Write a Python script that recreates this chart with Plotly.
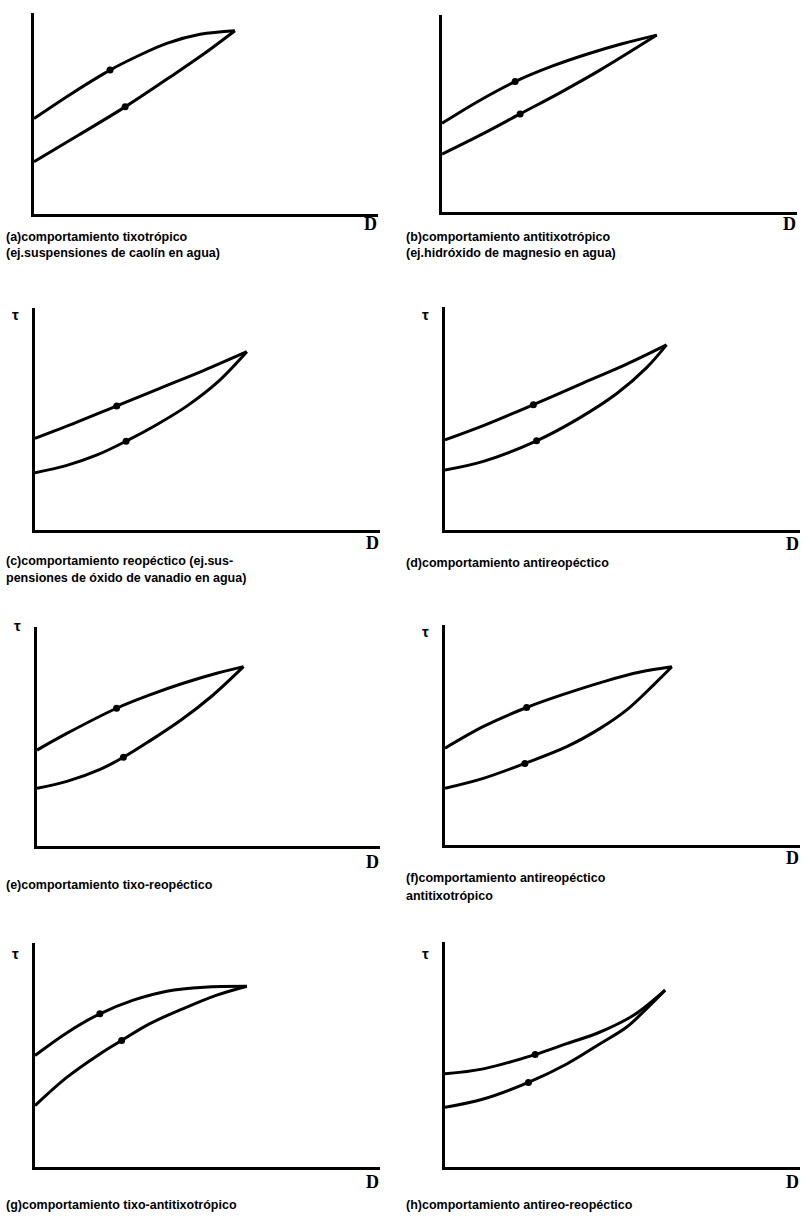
import plotly.graph_objects as go

W, H = 802, 1221

# Flow curves tau(D) for eight time-dependent behaviours.
# D = shear rate, tau = shear stress, both in arbitrary units on a 0-10 scale.

# (a) tixotropic
a_upper_D = [0.0, 1.10, 2.21, 3.08, 3.86, 4.83, 5.84]
a_upper_tau = [4.75, 6.00, 7.16, 7.91, 8.49, 8.94, 9.12]
a_lower_D = [0.0, 1.30, 2.65, 3.90, 4.90, 5.84]
a_lower_tau = [2.60, 3.93, 5.33, 6.75, 7.92, 9.12]
a_dot_D = [2.21, 2.65]
a_dot_tau = [7.16, 5.33]

# (b) antitixotropic
b_upper_D = [0.0, 1.00, 2.06, 3.10, 4.10, 5.10, 6.05]
b_upper_tau = [4.50, 5.60, 6.62, 7.40, 8.02, 8.55, 8.98]
b_lower_D = [0.0, 1.16, 2.20, 3.32, 4.45, 6.05]
b_lower_tau = [2.94, 3.98, 4.98, 6.05, 7.20, 8.98]
b_dot_D = [2.06, 2.20]
b_dot_tau = [6.62, 4.98]

# (c) reopectic
c_upper_D = [0.0, 1.20, 2.37, 3.60, 4.90, 6.14]
c_upper_tau = [4.13, 4.85, 5.59, 6.37, 7.19, 8.03]
c_lower_D = [0.0, 0.90, 1.80, 2.64, 3.50, 4.40, 5.30, 6.14]
c_lower_tau = [2.58, 2.90, 3.38, 4.00, 4.72, 5.58, 6.67, 8.03]
c_dot_D = [2.37, 2.64]
c_dot_tau = [5.59, 4.00]

# (d) antireopectic
d_upper_D = [0.0, 1.08, 2.49, 3.90, 5.12, 6.24]
d_upper_tau = [4.04, 4.68, 5.62, 6.60, 7.44, 8.30]
d_lower_D = [0.0, 1.08, 2.58, 3.71, 4.84, 5.68, 6.24]
d_lower_tau = [2.69, 3.08, 4.00, 4.95, 6.12, 7.28, 8.30]
d_dot_D = [2.49, 2.58]
d_dot_tau = [5.62, 4.00]

# (e) tixo-reopectic
e_upper_D = [0.0, 0.87, 2.32, 3.29, 4.26, 5.24, 6.02]
e_upper_tau = [4.38, 5.14, 6.29, 6.90, 7.43, 7.89, 8.19]
e_lower_D = [0.0, 0.87, 1.84, 2.52, 3.29, 4.20, 5.10, 6.02]
e_lower_tau = [2.63, 2.95, 3.50, 4.05, 4.80, 5.75, 6.85, 8.19]
e_dot_D = [2.32, 2.52]
e_dot_tau = [6.29, 4.05]

# (f) antireopectic-antitixotropic
f_upper_D = [0.0, 1.10, 2.30, 3.40, 4.50, 5.50, 6.39]
f_upper_tau = [4.40, 5.40, 6.25, 6.88, 7.44, 7.86, 8.10]
f_lower_D = [0.0, 1.08, 2.25, 3.43, 4.37, 5.12, 5.87, 6.39]
f_lower_tau = [2.58, 3.03, 3.71, 4.47, 5.30, 6.14, 7.27, 8.10]
f_dot_D = [2.30, 2.25]
f_dot_tau = [6.25, 3.71]

# (g) tixo-antitixotropic
g_upper_D = [0.0, 0.95, 1.88, 2.85, 3.82, 4.90, 6.14]
g_upper_tau = [4.98, 6.02, 6.84, 7.45, 7.85, 8.03, 8.07]
g_lower_D = [0.0, 0.92, 1.88, 2.51, 3.33, 4.30, 5.27, 6.14]
g_lower_tau = [2.74, 4.00, 5.05, 5.65, 6.40, 7.07, 7.67, 8.07]
g_dot_D = [1.88, 2.51]
g_dot_tau = [6.84, 5.65]

# (h) antireo-reopectic
h_upper_D = [0.0, 1.08, 2.54, 3.43, 4.37, 5.31, 6.20]
h_upper_tau = [4.14, 4.36, 5.00, 5.48, 6.00, 6.74, 7.86]
h_lower_D = [0.0, 1.08, 2.35, 3.43, 4.37, 5.12, 5.68, 6.20]
h_lower_tau = [2.65, 3.02, 3.76, 4.58, 5.48, 6.22, 7.04, 7.86]
h_dot_D = [2.54, 2.35]
h_dot_tau = [5.00, 3.76]

captions = [
    ["(a)comportamiento tixotrópico", "(ej.suspensiones de caolín en agua)"],
    ["(b)comportamiento antitixotrópico", "(ej.hidróxido de magnesio en agua)"],
    ["(c)comportamiento reopéctico (ej.sus-", "pensiones de óxido de vanadio en agua)"],
    ["(d)comportamiento antireopéctico"],
    ["(e)comportamiento tixo-reopéctico"],
    ["(f)comportamiento antireopéctico", "antitixotrópico"],
    ["(g)comportamiento tixo-antitixotrópico"],
    ["(h)comportamiento antireo-reopéctico"],
]
show_tau = [False, False, True, True, True, True, True, True]

panels = [
    (a_upper_D, a_upper_tau, a_lower_D, a_lower_tau, a_dot_D, a_dot_tau),
    (b_upper_D, b_upper_tau, b_lower_D, b_lower_tau, b_dot_D, b_dot_tau),
    (c_upper_D, c_upper_tau, c_lower_D, c_lower_tau, c_dot_D, c_dot_tau),
    (d_upper_D, d_upper_tau, d_lower_D, d_lower_tau, d_dot_D, d_dot_tau),
    (e_upper_D, e_upper_tau, e_lower_D, e_lower_tau, e_dot_D, e_dot_tau),
    (f_upper_D, f_upper_tau, f_lower_D, f_lower_tau, f_dot_D, f_dot_tau),
    (g_upper_D, g_upper_tau, g_lower_D, g_lower_tau, g_dot_D, g_dot_tau),
    (h_upper_D, h_upper_tau, h_lower_D, h_lower_tau, h_dot_D, h_dot_tau),
]

# Frame of each panel in page pixels: axis corner x, x-axis end, y-axis top, x-axis level
frames = [
    (34, 378, 13, 214),
    (442, 797, 15, 212),
    (35, 380, 308, 530),
    (445, 800, 307, 530),
    (37, 380, 627, 846),
    (445, 800, 625, 845),
    (35, 380, 943, 1167),
    (445, 800, 942, 1167),
]
caption_y = [(237, 253), (237, 253), (561, 578), (563,), (885,), (878, 896), (1205,), (1205,)]
d_label_drop = [10, 12, 13, 14, 16, 13, 15, 15]
tau_y = [None, None, 315, 315, 625, 632, 953, 953]

FONT = "Liberation Sans, Arial, sans-serif"
INK = "#000000"


def px(x):
    return x / W


def py(y):
    return 1 - y / H


fig = go.Figure()
annotations = []

for i, (panel, frame) in enumerate(zip(panels, frames)):
    uD, ut, lD, lt, dD, dt = panel
    x0, x1, ytop, ybot = frame
    n = i + 1
    xa = "x" if n == 1 else f"x{n}"
    ya = "y" if n == 1 else f"y{n}"
    for xs, ys in ((uD, ut), (lD, lt)):
        fig.add_trace(go.Scatter(
            x=xs, y=ys, mode="lines", xaxis=xa, yaxis=ya,
            line=dict(color=INK, width=3, shape="spline", smoothing=1.0),
            hoverinfo="skip", showlegend=False,
        ))
    fig.add_trace(go.Scatter(
        x=dD, y=dt, mode="markers", xaxis=xa, yaxis=ya,
        marker=dict(color=INK, size=7, symbol="circle"),
        hoverinfo="skip", showlegend=False,
    ))

    axis_common = dict(
        showline=True, linewidth=3, linecolor=INK, showgrid=False,
        zeroline=False, showticklabels=False, ticks="", range=[0, 10],
        fixedrange=True,
    )
    fig.update_layout({
        ("xaxis" if n == 1 else f"xaxis{n}"): dict(
            axis_common, domain=[px(x0), px(x1)], anchor=ya),
        ("yaxis" if n == 1 else f"yaxis{n}"): dict(
            axis_common, domain=[py(ybot), py(ytop)], anchor=xa),
    })

    # axis letters
    annotations.append(dict(
        x=px(x1 - 8), y=py(ybot + d_label_drop[i]), xref="paper", yref="paper",
        text="<b>D</b>", showarrow=False, xanchor="center", yanchor="middle",
        font=dict(family="Liberation Serif, serif", size=18, color=INK),
    ))
    if show_tau[i]:
        annotations.append(dict(
            x=px(x0 - 20), y=py(tau_y[i]), xref="paper", yref="paper",
            text="<b>τ</b>", showarrow=False, xanchor="center", yanchor="middle",
            font=dict(family=FONT, size=15, color=INK),
        ))

    # caption lines below the panel
    cx = 4 if x0 < 400 else 404
    for line, yy in zip(captions[i], caption_y[i]):
        annotations.append(dict(
            x=px(cx), y=py(yy), xref="paper", yref="paper",
            text=f"<b>{line}</b>", showarrow=False, xanchor="left",
            yanchor="middle", font=dict(family=FONT, size=12.5, color=INK),
        ))

fig.update_layout(
    width=W, height=H, margin=dict(l=0, r=0, t=0, b=0),
    paper_bgcolor="white", plot_bgcolor="white",
    showlegend=False, annotations=annotations,
)

fig.write_html("out.html", config={"displayModeBar": False})
